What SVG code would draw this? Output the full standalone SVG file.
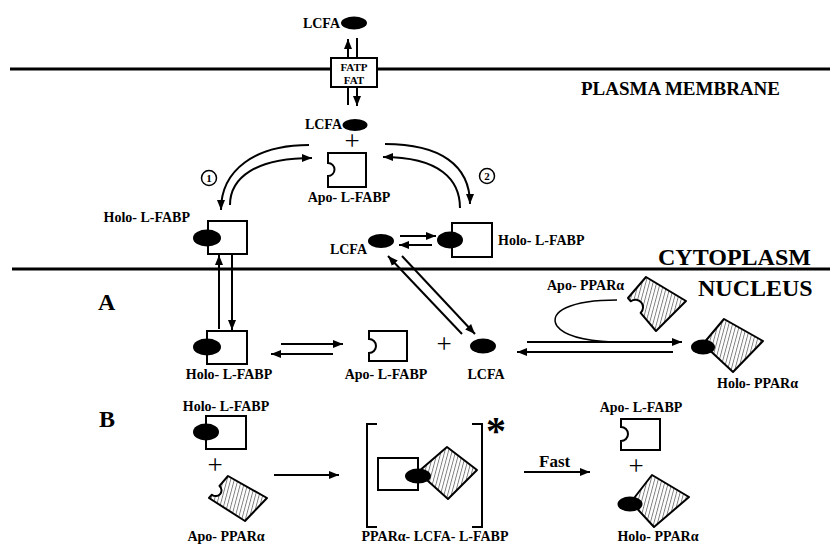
<svg xmlns="http://www.w3.org/2000/svg" width="830" height="545" viewBox="0 0 830 545">
<defs>
<marker id="ah" markerUnits="userSpaceOnUse" markerWidth="10" markerHeight="8" refX="10" refY="4" orient="auto">
<path d="M0,0 L10,4 L0,8 Z" fill="#000"/>
</marker>
<pattern id="hatch" patternUnits="userSpaceOnUse" width="3.5" height="3.5" patternTransform="rotate(15)">
<rect width="3.5" height="3.5" fill="#fff"/>
<line x1="0.5" y1="0" x2="0.5" y2="3.5" stroke="#666" stroke-width="0.8"/>
</pattern>
</defs>
<style>
.t{font-family:"Liberation Serif","Times New Roman",serif;font-weight:bold;font-size:14px;fill:#000}
.m{text-anchor:middle}
.e{text-anchor:end}
.big{font-size:24px}
.mem{stroke:#000;stroke-width:3}
.ln{stroke:#000;stroke-width:2;fill:none}
.arr{stroke:#000;stroke-width:2;fill:none;marker-end:url(#ah)}
.box{fill:#fff;stroke:#000;stroke-width:2}
.lig{fill:#000}
.ppar{fill:url(#hatch);stroke:#000;stroke-width:2;stroke-linejoin:round}
.plus{font-family:"Liberation Serif","Times New Roman",serif;font-size:27px;text-anchor:middle;fill:#000}
.num{fill:#fff;stroke:#000;stroke-width:1.5}
</style>
<rect width="830" height="545" fill="#fff"/>

<g id="membranes">
<line class="mem" x1="10" y1="69" x2="830" y2="69"/>
<line class="mem" x1="12" y1="269" x2="830" y2="269"/>
<text class="t" x="581" y="95" style="font-size:19px">PLASMA MEMBRANE</text>
<text class="t big" x="658" y="265">CYTOPLASM</text>
<text class="t big" x="698" y="296">NUCLEUS</text>
<text class="t big" x="98" y="310">A</text>
<text class="t big" x="99" y="427">B</text>
</g>

<g id="connectors">
<line class="arr" x1="348" y1="58" x2="348" y2="39"/>
<line class="ln" x1="357" y1="38" x2="357" y2="58"/>
<line class="ln" x1="348" y1="87" x2="348" y2="105"/>
<line class="arr" x1="357" y1="87" x2="357" y2="106"/>
<path class="arr" d="M309,145 C255,145 221,170 221,210"/>
<path class="arr" d="M230,205 C230,178 255,158 312,158"/>
<path class="arr" d="M385,144 C440,144 470,165 470,204"/>
<path class="arr" d="M460,208 C460,180 440,157 383,157"/>
<line class="arr" x1="400" y1="236" x2="436" y2="236"/>
<line class="arr" x1="432" y1="245" x2="399" y2="245"/>
<line class="arr" x1="219" y1="329" x2="219" y2="255"/>
<line class="arr" x1="232" y1="255" x2="232" y2="330"/>
<line class="arr" x1="462" y1="334" x2="388" y2="256"/>
<line class="arr" x1="402" y1="256" x2="475" y2="334"/>
<line class="arr" x1="281" y1="344" x2="343" y2="344"/>
<line class="arr" x1="333" y1="354" x2="271" y2="354"/>
<line class="arr" x1="527" y1="342" x2="682" y2="342"/>
<line class="arr" x1="673" y1="352" x2="517" y2="352"/>
<path d="M617,300 C570,300 548,312 557,326 C566,338 590,341 612,342" fill="none" stroke="#000" stroke-width="1.5"/>
<line class="arr" x1="274" y1="475" x2="339" y2="475"/>
<line class="arr" x1="524" y1="472" x2="590" y2="472"/>
<text class="t" x="539" y="467" style="font-size:17px">Fast</text>
<circle class="num" cx="209" cy="178" r="7.5"/>
<text class="t m" x="209" y="182" style="font-size:11px">1</text>
<circle class="num" cx="487" cy="176" r="7.5"/>
<text class="t m" x="487" y="180" style="font-size:11px">2</text>
</g>

<g id="fatp">
<rect class="box" x="331" y="58" width="46" height="29"/>
<text class="t m" x="354" y="70.5" style="font-size:11px">FATP</text>
<text class="t m" x="354" y="83.5" style="font-size:11px">FAT</text>
</g>

<g id="lcfa-out">
<ellipse class="lig" cx="354" cy="23" rx="13" ry="6.5"/>
<text class="t e" x="340" y="28">LCFA</text>
</g>

<g id="lcfa-in">
<ellipse class="lig" cx="355" cy="125" rx="12.5" ry="6"/>
<text class="t e" x="342" y="129">LCFA</text>
<text class="plus" x="352" y="150">+</text>
</g>

<g id="apo-lfabp-cyto">
<path class="box" d="M328,153 H366 V187 H328 V176 A6.5 6.5 0 0 0 328,163 Z"/>
<text class="t m" x="349" y="202">Apo- L-FABP</text>
</g>

<g id="holo-lfabp-cyto-left">
<rect class="box" x="208" y="221" width="39" height="33"/>
<ellipse class="lig" cx="207" cy="238" rx="14" ry="8.5"/>
<text class="t e" x="190" y="222">Holo- L-FABP</text>
</g>

<g id="lcfa-cyto">
<ellipse class="lig" cx="381" cy="241" rx="13" ry="7"/>
<text class="t e" x="367" y="254">LCFA</text>
</g>

<g id="holo-lfabp-cyto-right">
<rect class="box" x="452" y="223" width="40" height="34"/>
<ellipse class="lig" cx="450" cy="240" rx="13" ry="8.5"/>
<text class="t" x="498" y="245">Holo- L-FABP</text>
</g>

<g id="holo-lfabp-nuc">
<rect class="box" x="207" y="331" width="40" height="33"/>
<ellipse class="lig" cx="207" cy="347" rx="14" ry="8.5"/>
<text class="t m" x="229" y="379">Holo- L-FABP</text>
</g>

<g id="apo-lfabp-nuc">
<path class="box" d="M369,331 H407 V361 H369 V353 A7 7 0 0 0 369,339 Z"/>
<text class="t m" x="386" y="379">Apo- L-FABP</text>
<text class="plus" x="444" y="353">+</text>
</g>

<g id="lcfa-nuc">
<ellipse class="lig" cx="483" cy="346" rx="13" ry="7.5"/>
<text class="t m" x="486" y="379">LCFA</text>
</g>

<g id="apo-ppar-nuc">
<path class="ppar" d="M646,277 L686,301 L656,331 L640.6,312.9 A7.6 7.6 0 0 0 630.8,301.3 L628,298 Z"/>
<text class="t" x="547" y="290">Apo- PPARα</text>
</g>

<g id="holo-ppar-nuc">
<path class="ppar" d="M724,319 L763,341 L733,372 L703,344 Z"/>
<ellipse class="lig" cx="703" cy="347" rx="12" ry="7.5"/>
<text class="t" x="717" y="388">Holo- PPARα</text>
</g>

<g id="b-holo-lfabp">
<rect class="box" x="206" y="416" width="40" height="33"/>
<ellipse class="lig" cx="206" cy="432" rx="13" ry="8.5"/>
<text class="t m" x="226" y="411">Holo- L-FABP</text>
<text class="plus" x="215" y="474">+</text>
</g>

<g id="b-apo-ppar">
<path class="ppar" d="M228,476 L267,498 L245,521 L209,498 L211.9,494.7 A5.8 5.8 0 0 0 219.5,485.9 Z"/>
<text class="t m" x="226" y="541">Apo- PPARα</text>
</g>

<g id="b-complex">
<path class="ln" d="M377,424 H367 V527 H377"/>
<path class="ln" d="M472,424 H482 V527 H472"/>
<rect class="box" x="378" y="458" width="40" height="32"/>
<path class="ppar" d="M447,447 L477,470 L448,499 L418,472 Z"/>
<ellipse class="lig" cx="418" cy="476" rx="13" ry="7.5"/>
<text class="t" x="486" y="444" style="font-size:40px">*</text>
<text class="t m" x="435" y="541">PPARα- LCFA- L-FABP</text>
</g>

<g id="b-apo-lfabp">
<path class="box" d="M621,419 H660 V450 H621 V441 A7 7 0 0 0 621,427 Z"/>
<text class="t m" x="641" y="412">Apo- L-FABP</text>
<text class="plus" x="636" y="475">+</text>
</g>

<g id="b-holo-ppar">
<path class="ppar" d="M652,475 L689,497 L654,527 L631,502 Z"/>
<ellipse class="lig" cx="630" cy="504" rx="12.5" ry="7.5"/>
<text class="t m" x="658" y="541">Holo- PPARα</text>
</g>
</svg>
